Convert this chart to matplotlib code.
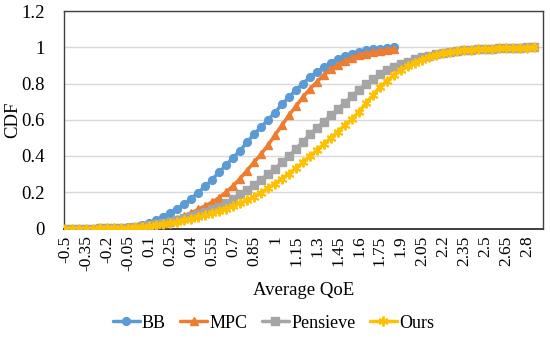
import matplotlib
matplotlib.use("Agg")
import matplotlib.pyplot as plt

plt.rcParams['font.family'] = ['Liberation Serif', 'DejaVu Serif']

# Categorical x axis (Average QoE), step 0.05
qoe = [-0.5, -0.45, -0.4, -0.35, -0.3, -0.25, -0.2, -0.15, -0.1, -0.05,
       0.0, 0.05, 0.1, 0.15, 0.2, 0.25, 0.3, 0.35, 0.4, 0.45,
       0.5, 0.55, 0.6, 0.65, 0.7, 0.75, 0.8, 0.85, 0.9, 0.95,
       1.0, 1.05, 1.1, 1.15, 1.2, 1.25, 1.3, 1.35, 1.4, 1.45,
       1.5, 1.55, 1.6, 1.65, 1.7, 1.75, 1.8, 1.85, 1.9, 1.95,
       2.0, 2.05, 2.1, 2.15, 2.2, 2.25, 2.3, 2.35, 2.4, 2.45,
       2.5, 2.55, 2.6, 2.65, 2.7, 2.75, 2.8, 2.85, 2.9]

bb = [0.0, 0.0, 0.0, 0.0, 0.0, 0.001, 0.002, 0.003, 0.004, 0.006,
      0.01, 0.02, 0.03, 0.045, 0.065, 0.088, 0.11, 0.133, 0.165, 0.198,
      0.232, 0.27, 0.31, 0.35, 0.39, 0.43, 0.475, 0.52, 0.56, 0.60,
      0.64, 0.685, 0.725, 0.765, 0.80, 0.835, 0.865, 0.89, 0.915, 0.935,
      0.952, 0.965, 0.975, 0.983, 0.989, 0.993, 0.997, 1.0]

mpc = [0.0, 0.0, 0.0, 0.0, 0.0, 0.001, 0.001, 0.002, 0.003, 0.005,
       0.008, 0.012, 0.018, 0.025, 0.033, 0.043, 0.055, 0.068, 0.085, 0.105,
       0.125, 0.145, 0.17, 0.2, 0.235, 0.275, 0.32, 0.365, 0.41, 0.46,
       0.515, 0.57, 0.625, 0.675, 0.725, 0.77, 0.81, 0.848, 0.878, 0.903,
       0.924, 0.941, 0.955, 0.965, 0.973, 0.979, 0.985, 0.99]

pensieve = [0.0, 0.0, 0.0, 0.0, 0.0, 0.001, 0.001, 0.002, 0.003, 0.005,
            0.008, 0.012, 0.017, 0.023, 0.03, 0.038, 0.047, 0.057, 0.068, 0.08,
            0.092, 0.105, 0.12, 0.14, 0.165, 0.19, 0.215, 0.24, 0.27, 0.30,
            0.33, 0.365, 0.40, 0.44, 0.48, 0.52, 0.555, 0.59, 0.625, 0.66,
            0.695, 0.73, 0.765, 0.795, 0.825, 0.85, 0.872, 0.89, 0.906, 0.92,
            0.933, 0.944, 0.953, 0.961, 0.968, 0.974, 0.979, 0.983, 0.986, 0.989,
            0.991, 0.993, 0.995, 0.996, 0.997, 0.998, 0.999, 1.0]

ours = [0.0, 0.0, 0.0, 0.0, 0.0, 0.001, 0.001, 0.002, 0.003, 0.004,
        0.006, 0.01, 0.014, 0.019, 0.025, 0.031, 0.038, 0.045, 0.053, 0.062,
        0.072, 0.083, 0.095, 0.108, 0.122, 0.138, 0.156, 0.176, 0.198, 0.222,
        0.248, 0.275, 0.303, 0.333, 0.365, 0.398, 0.432, 0.466, 0.50, 0.535,
        0.57, 0.603, 0.645, 0.69, 0.735, 0.78, 0.815, 0.845, 0.872, 0.895,
        0.915, 0.932, 0.946, 0.958, 0.967, 0.974, 0.979, 0.983, 0.986, 0.988,
        0.99, 0.992, 0.994, 0.995, 0.996, 0.997, 0.998, 1.0]

series_names = ['BB', 'MPC', 'Pensieve', 'Ours']
colors = ['#5B9BD5', '#ED7D31', '#A5A5A5', '#FFC000']
markers = ['o', '^', 's', (6, 2, 0)]
msizes = [5.6, 6.2, 5.2, 7.0]
yticks = [0, 0.2, 0.4, 0.6, 0.8, 1, 1.2]
ytick_labels = ['0', '0.2', '0.4', '0.6', '0.8', '1', '1.2']

fig = plt.figure(figsize=(5.5, 3.48), dpi=100)
ax = fig.add_axes([64 / 550, 1 - 228.5 / 348, (543 - 64) / 550, (228.5 - 11) / 348])

for name, vals, c, m, ms in zip(series_names, [bb, mpc, pensieve, ours], colors, markers, msizes):
    x = list(range(len(vals)))
    ax.plot(x, vals, color=c, lw=2.5, marker=m, markersize=ms,
            markerfacecolor=c, markeredgecolor=c,
            markeredgewidth=1.0 if m != (6, 2, 0) else 1.4,
            label=name, zorder=3, solid_capstyle='round')

ax.set_xlim(-0.15, 68.3)
ax.set_ylim(0, 1.2)
ax.set_yticks(yticks)
ax.set_yticklabels(ytick_labels, fontsize=13.5)
tick_idx = list(range(0, 67, 3))
ax.set_xticks(tick_idx)
ax.set_xticklabels([f"{qoe[i]:g}" for i in tick_idx], rotation=90, fontsize=12.5)
ax.tick_params(axis='both', length=0, pad=5)
ax.tick_params(axis='y', pad=14)
ax.grid(axis='y', color='#D9D9D9', lw=1.0, zorder=0)
for s in ['top', 'right', 'left']:
    ax.spines[s].set_color('#404040')
    ax.spines[s].set_linewidth(1.0)
ax.spines['bottom'].set_color('#303030')
ax.spines['bottom'].set_linewidth(1.3)
ax.spines['bottom'].set_zorder(2)

fig.text(13 / 550, 1 - 120 / 348, 'CDF', rotation=90, fontsize=13.5,
         ha='center', va='center')
ax.set_xlabel('Average QoE', fontsize=13.5, labelpad=8)

fig.legend(loc='center', bbox_to_anchor=(0.497, 1 - 323 / 348), ncol=4, frameon=False,
           fontsize=13, handlelength=1.5, handletextpad=0.12, columnspacing=0.8)

fig.savefig('out.png', dpi=100)
